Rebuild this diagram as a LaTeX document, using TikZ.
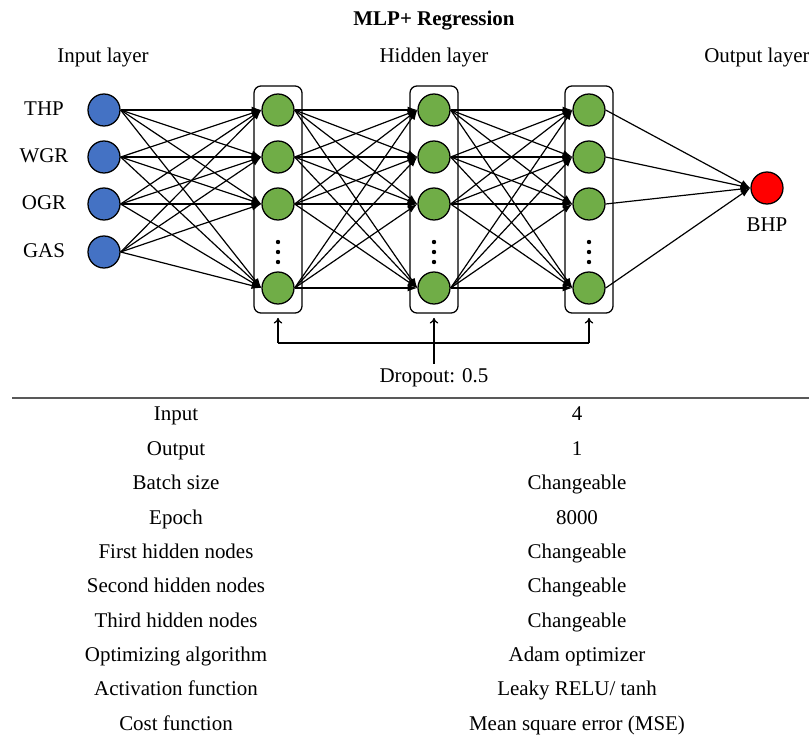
\documentclass[tikz,border=0pt]{standalone}
\usepackage{fontspec}
\setmainfont{Liberation Serif}
\usetikzlibrary{arrows.meta}
\definecolor{inblue}{HTML}{4472C4}
\definecolor{hidgreen}{HTML}{70AD47}
\definecolor{outred}{HTML}{FF0000}
\tikzset{
  neuron/.style={circle, draw=black, line width=0.9pt, minimum size=0.8cm, inner sep=0pt},
  layerbox/.style={draw=black, line width=0.9pt, rounded corners=5pt, minimum width=1.2cm, minimum height=5.675cm, inner sep=0pt},
  edge/.style={-{Latex[length=7pt,width=5pt]}, line width=0.85pt},
  droparrow/.style={-{To[length=4pt,width=6pt]}, line width=0.9pt}
}
\begin{document}
\begin{tikzpicture}[x=0.025cm, y=-0.025cm, font=\fontsize{14.9}{18}\selectfont,
    every node/.append style={text height=2.15ex, text depth=0.35ex}]
    \useasboundingbox (0,0) rectangle (809,738);
    % Titles
    \node (title) at (434,20) {\textbf{MLP+ Regression}};
    \node (inlab) at (103,57) {Input layer};
    \node (hidlab) at (434,57) {Hidden layer};
    \node[anchor=west, inner xsep=0pt] (outlab) at (704,57) {Output layer};
    % Layer boxes
    \node[layerbox] (boxa) at (278,199.5) {};
    \node[layerbox] (boxb) at (434,199.5) {};
    \node[layerbox] (boxc) at (589,199.5) {};
    % Input layer
    \node[neuron, fill=inblue] (i1) at (104,110) {};
    \node[neuron, fill=inblue] (i2) at (104,157) {};
    \node[neuron, fill=inblue] (i3) at (104,204) {};
    \node[neuron, fill=inblue] (i4) at (104,252) {};
    \node (thp) at (44,110) {THP};
    \node (wgr) at (44,157) {WGR};
    \node (ogr) at (44,204) {OGR};
    \node (gas) at (44,252) {GAS};
    % Hidden layers
    \node[neuron, fill=hidgreen] (a1) at (278,110) {};
    \node[neuron, fill=hidgreen] (a2) at (278,157) {};
    \node[neuron, fill=hidgreen] (a3) at (278,204) {};
    \node[neuron, fill=hidgreen] (a4) at (278,288) {};
    \node[neuron, fill=hidgreen] (b1) at (434,110) {};
    \node[neuron, fill=hidgreen] (b2) at (434,157) {};
    \node[neuron, fill=hidgreen] (b3) at (434,204) {};
    \node[neuron, fill=hidgreen] (b4) at (434,288) {};
    \node[neuron, fill=hidgreen] (c1) at (589,110) {};
    \node[neuron, fill=hidgreen] (c2) at (589,157) {};
    \node[neuron, fill=hidgreen] (c3) at (589,204) {};
    \node[neuron, fill=hidgreen] (c4) at (589,288) {};
    \foreach \x in {278,434,589}
        \foreach \y in {242,252,262}
            \fill (\x,\y) circle (2.2);
    % Output layer
    \node[neuron, fill=outred] (out) at (767,188) {};
    \node (bhp) at (767,226) {BHP};
    % Connections
    \foreach \s in {1,...,4}
        \foreach \t in {1,...,4} {
            \draw[edge] (i\s.east) -- (a\t.west);
            \draw[edge] (a\s.east) -- (b\t.west);
            \draw[edge] (b\s.east) -- (c\t.west);
        }
    \foreach \s in {1,...,4}
        \draw[edge] (c\s.east) -- (out.west);
    % Dropout
    \node (drop) at (434,377) {Dropout: 0.5};
    \coordinate (da) at (278,343);
    \coordinate (dc) at (589,343);
    \draw[line width=0.9pt] (da) -- (dc);
    \draw[droparrow, shorten >=3pt] (da) -- (boxa.south);
    \draw[droparrow, shorten >=3pt] (dc) -- (boxc.south);
    \draw[droparrow, shorten >=3pt] (drop.north) -- (boxb.south);
    % Table
    \draw[black!65, line width=1.3pt] (12,398) -- (809,398);
    \node (r1l) at (176,415) {Input};
    \node (r1r) at (577,415) {4};
    \node (r2l) at (176,450) {Output};
    \node (r2r) at (577,450) {1};
    \node (r3l) at (176,484) {Batch size};
    \node (r3r) at (577,484) {Changeable};
    \node (r4l) at (176,519) {Epoch};
    \node (r4r) at (577,519) {8000};
    \node (r5l) at (176,553) {First hidden nodes};
    \node (r5r) at (577,553) {Changeable};
    \node (r6l) at (176,587) {Second hidden nodes};
    \node (r6r) at (577,587) {Changeable};
    \node (r7l) at (176,622) {Third hidden nodes};
    \node (r7r) at (577,622) {Changeable};
    \node (r8l) at (176,656) {Optimizing algorithm};
    \node (r8r) at (577,656) {Adam optimizer};
    \node (r9l) at (176,690) {Activation function};
    \node (r9r) at (577,690) {Leaky RELU/ tanh};
    \node (r10l) at (176,725) {Cost function};
    \node (r10r) at (577,725) {Mean square error (MSE)};
\end{tikzpicture}
\end{document}
